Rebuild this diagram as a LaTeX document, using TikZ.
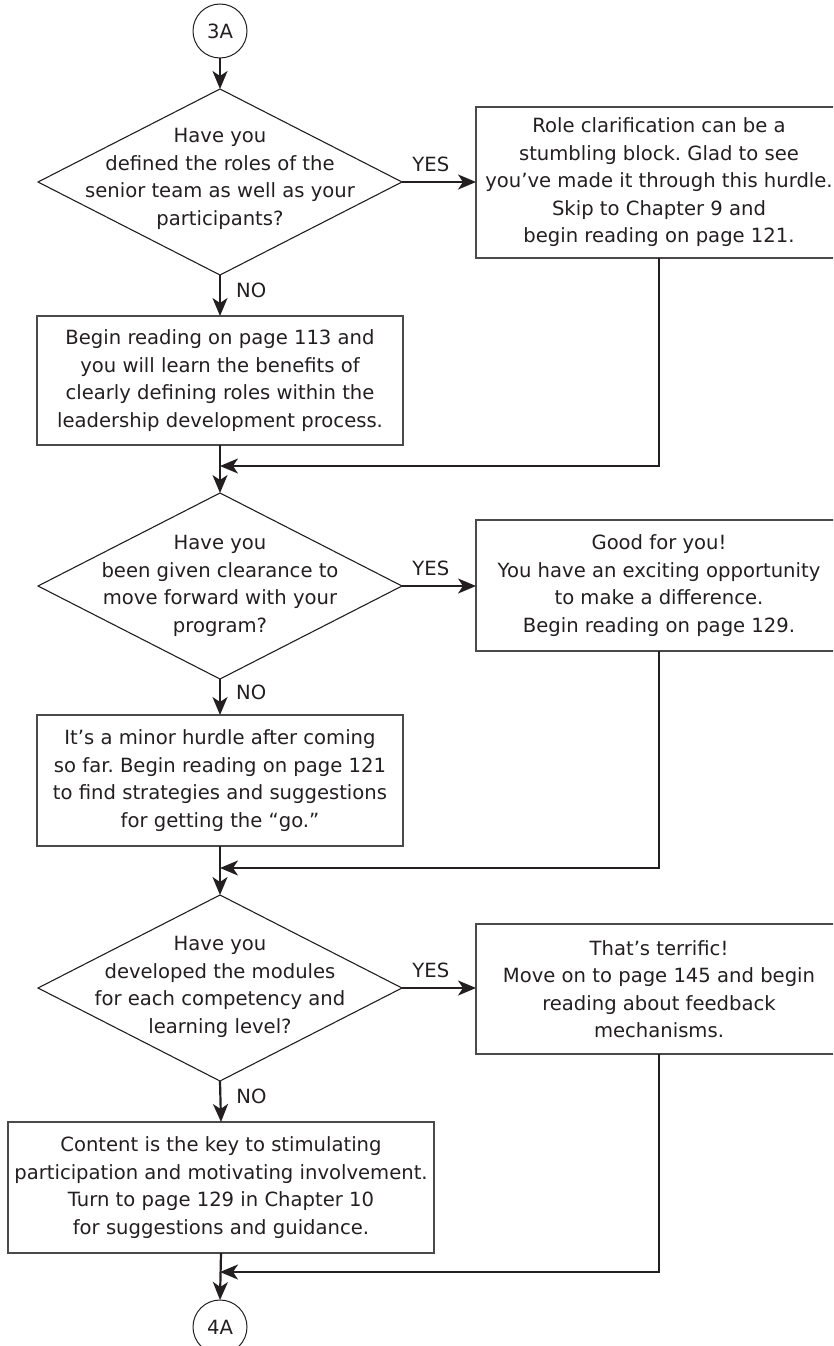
\documentclass[tikz,border=0pt]{standalone}
\usepackage{fontspec}
\setmainfont{DejaVu Sans}
\usetikzlibrary{shapes.geometric,arrows.meta}
\frenchspacing

\definecolor{ink}{HTML}{231F20}
\definecolor{frame}{HTML}{4A4A4A}
\definecolor{txt}{HTML}{231F20}

\begin{document}
\begin{tikzpicture}[x=1pt,y=-1pt,
  every node/.style={text=txt, font=\fontsize{19.6}{27.5}\selectfont},
  conn/.style={draw=ink, line width=2.2pt,
    -{Stealth[length=18pt,width=15pt,inset=5pt]}},
  decision/.style={diamond, draw=ink, line width=1.1pt, minimum width=364pt,
    minimum height=186pt, inner sep=0pt, outer sep=0pt},
  qtext/.style={align=center, inner sep=0pt},
  infobox/.style={rectangle, draw=frame, line width=1.3pt, align=center,
    minimum width=366pt, inner sep=0pt, outer sep=0pt},
  connector/.style={circle, draw=ink, line width=1pt, minimum size=54pt,
    inner sep=0pt, outer sep=0pt},
  yeslbl/.style={above=6pt, pos=0.39, inner sep=3pt},
  nolbl/.style={right=12pt, pos=0.38, inner sep=3pt}
]
\useasboundingbox (0,0) rectangle (833,1346);
\clip (0,0) rectangle (833,1346);

% entry connector
\node[connector] (c3a) at (220,31) {3A};

% first decision
\node[decision] (d1) at (220,182) {};
\node[qtext] (q1) at (220,179) {Have you\\defined the roles of the\\senior team as well as your\\participants?};
\node[infobox, minimum height=151pt] (r1) at (659,182.5)
  {Role clarification can be a\\stumbling block. Glad to see\\you’ve made it through this hurdle.\\Skip to Chapter 9 and\\begin reading on page 121.};
\node[infobox, minimum height=129pt] (b1) at (220,380.5)
  {Begin reading on page 113 and\\you will learn the benefits of\\clearly defining roles within the\\leadership development process.};
\coordinate (m1) at (220,466);

% second decision
\node[decision] (d2) at (220,586) {};
\node[qtext] (q2) at (220,586) {Have you\\been given clearance to\\move forward with your\\program?};
\node[infobox, minimum height=131pt] (r2) at (659,585.5)
  {Good for you!\\You have an exciting opportunity\\to make a difference.\\Begin reading on page 129.};
\node[infobox, minimum height=131pt] (b2) at (220,780.5)
  {It’s a minor hurdle after coming\\so far. Begin reading on page 121\\to find strategies and suggestions\\for getting the “go.”};
\coordinate (m2) at (220,868);

% third decision
\node[decision] (d3) at (220,988) {};
\node[qtext] (q3) at (220,987) {Have you\\developed the modules\\for each competency and\\learning level?};
\node[infobox, minimum height=130pt] (r3) at (659,989)
  {That’s terrific!\\Move on to page 145 and begin\\reading about feedback\\mechanisms.};
\node[infobox, minimum height=131pt, minimum width=426pt] (b3) at (221,1187.5)
  {Content is the key to stimulating\\participation and motivating involvement.\\Turn to page 129 in Chapter 10\\for suggestions and guidance.};
\coordinate (m3) at (220,1272);

% exit connector
\node[connector] (c4a) at (220,1327) {4A};

% flow
\draw[conn] (c3a.south) -- (d1.north);
\draw[conn] (d1.east) -- node[yeslbl] (y1) {YES} (d1.east -| r1.west);
\draw[conn] (d1.south) -- node[nolbl] (n1) {NO} (b1.north);
\draw[conn] (b1.south) -- (d2.north);
\draw[conn] (r1.south) |- (m1);

\draw[conn] (d2.east) -- node[yeslbl] (y2) {YES} (d2.east -| r2.west);
\draw[conn] (d2.south) -- node[nolbl] (n2) {NO} (b2.north);
\draw[conn] (b2.south) -- (d3.north);
\draw[conn] (r2.south) |- (m2);

\draw[conn] (d3.east) -- node[yeslbl] (y3) {YES} (d3.east -| r3.west);
\draw[conn] (d3.south) -- node[nolbl] (n3) {NO} (b3.north);
\draw[conn] (b3.south) -- (c4a.north);
\draw[conn] (r3.south) |- (m3);
\end{tikzpicture}
\end{document}
